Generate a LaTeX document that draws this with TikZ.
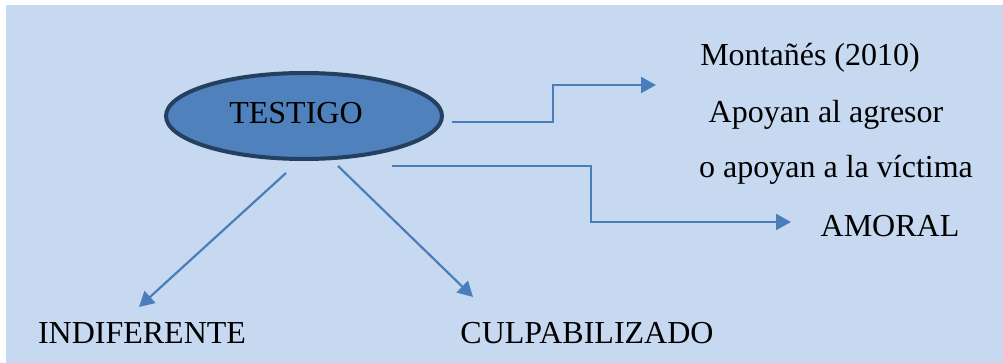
\documentclass[tikz,border=0pt]{standalone}
\usepackage{fontspec}
\setmainfont{Liberation Serif}
\usetikzlibrary{arrows.meta,shapes.geometric}
\definecolor{panel}{HTML}{C6D9F0}
\definecolor{ovalfill}{HTML}{4F81BD}
\definecolor{ovalrim}{HTML}{243F60}
\definecolor{link}{HTML}{4A7EBB}
\tikzset{
  label/.style={inner sep=0pt, font=\fontsize{32}{38}\selectfont, text=black},
  oval/.style={ellipse, draw=ovalrim, fill=ovalfill, line width=4pt,
               minimum width=276pt, minimum height=86pt, inner sep=0pt},
  link/.style={draw=link, line width=2.2pt,
               -{Triangle[length=15pt,width=16pt]}},
}
\begin{document}
\begin{tikzpicture}[x=1pt,y=-1pt]
  \useasboundingbox (0,0) rectangle (1003,363);
  \fill[panel] (6,5) rectangle (1003,363);

  % central term
  \node[oval] (testigo) at (304,116) {};
  \node[label] (testigoTxt) at (296,113) {TESTIGO};

  % right-hand texts
  \node[label] (montanes) at (810,58) {Montañés (2010)};
  \node[label] (apoyan)   at (826,115) {Apoyan al agresor};
  \node[label] (victima)  at (836,170) {o apoyan a la víctima};
  \node[label] (amoral)   at (890,226) {AMORAL};

  % bottom texts
  \node[label] (indif) at (142,333) {INDIFERENTE};
  \node[label] (culpa) at (587,333) {CULPABILIZADO};

  % connector ends
  \coordinate (s1) at (452,122);
  \coordinate (e1) at (656,85);
  \coordinate (s2) at (392,166);
  \coordinate (e2) at (791,222);
  \coordinate (s3) at (286,173);
  \coordinate (e3) at (139,307);
  \coordinate (s4) at (338,166);
  \coordinate (e4) at (473,297);

  \draw[link] (s1) -- (553,122) -- (553,85) -- (e1);
  \draw[link] (s2) -- (591,166) -- (591,222) -- (e2);
  \draw[link] (s3) -- (e3);
  \draw[link] (s4) -- (e4);
\end{tikzpicture}
\end{document}
